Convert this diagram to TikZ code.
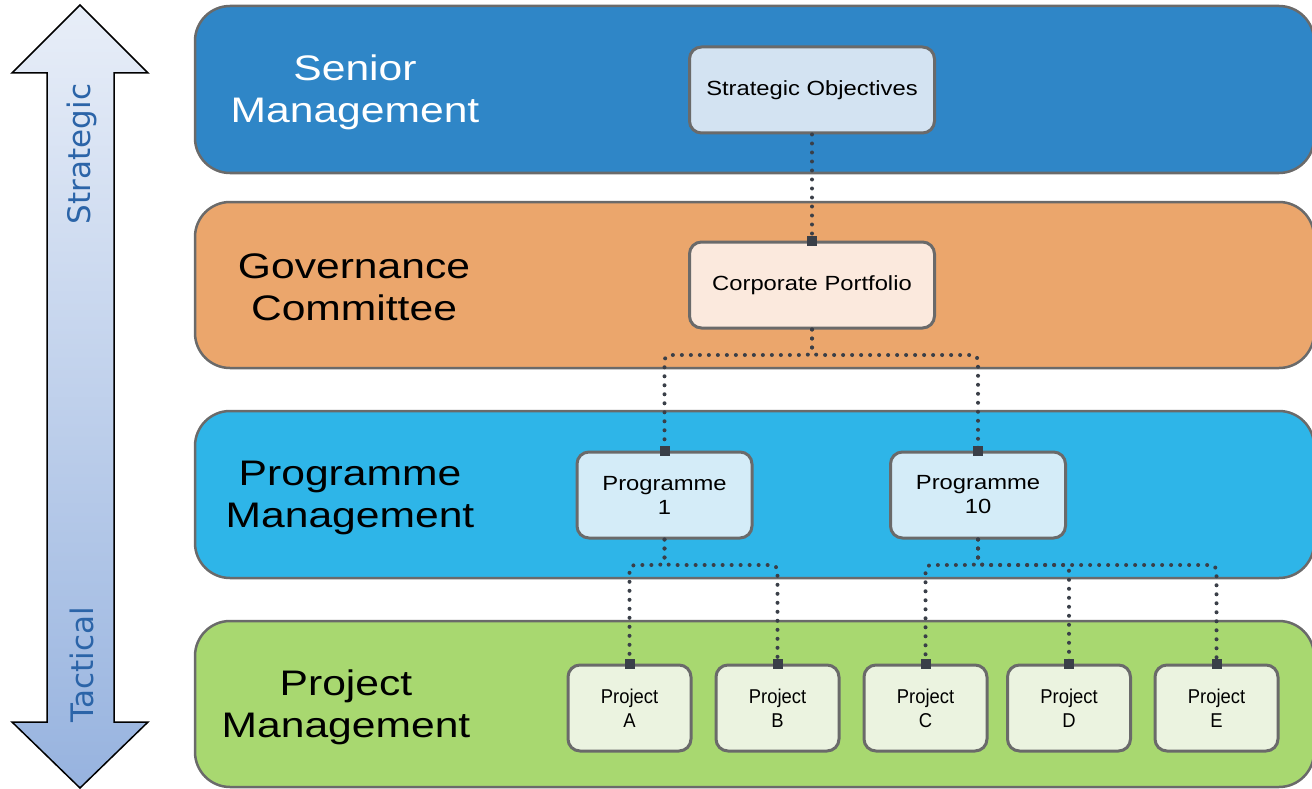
\documentclass[tikz,border=0pt]{standalone}
\usepackage{fontspec}
\setmainfont{Liberation Sans}
\newfontfamily\ttlfont[FakeStretch=1.2]{Liberation Sans}
\newfontfamily\bxfont[FakeStretch=1.16]{Liberation Sans}
\newfontfamily\prfont[FakeStretch=0.92]{Liberation Sans}
\newfontfamily\arrfont{DejaVu Sans}
\usetikzlibrary{calc}
\definecolor{laneA}{HTML}{2F86C7}
\definecolor{laneB}{HTML}{EBA66C}
\definecolor{laneC}{HTML}{2EB5E8}
\definecolor{laneD}{HTML}{A8D870}
\definecolor{boxA}{HTML}{D3E3F2}
\definecolor{boxB}{HTML}{FBE9DD}
\definecolor{boxC}{HTML}{D4ECF8}
\definecolor{boxD}{HTML}{EBF3E0}
\definecolor{edge}{HTML}{6A6A6A}
\definecolor{conncol}{HTML}{3A3F48}
\definecolor{arrtxt}{HTML}{2B64A8}
\definecolor{arrtop}{HTML}{E8EEF8}
\definecolor{arrbot}{HTML}{97B3DF}
\tikzset{
  lane/.style={draw=edge, line width=2.5pt, rounded corners=35pt},
  lanetitle/.style={align=center, font=\ttlfont\fontsize{35.5}{42}\selectfont},
  box/.style={draw=edge, line width=3pt, rounded corners=12pt, align=center, minimum height=86pt, inner sep=0pt},
  conn/.style={draw=conncol, line width=4pt, line cap=round, dash pattern=on 0pt off 9pt, rounded corners=6pt},
  endsq/.style={fill=conncol, minimum size=10pt, inner sep=0pt}
}
\begin{document}
\begin{tikzpicture}[x=1pt,y=-1pt]
\useasboundingbox (0,0) rectangle (1312,789);
\begin{scope}
\clip (0,0) rectangle (1312,789);
% lanes
\draw[lane, fill=laneA] (195,6) rectangle (1314,173);
\draw[lane, fill=laneB] (195,202) rectangle (1314,368);
\draw[lane, fill=laneC] (195,411) rectangle (1314,578);
\draw[lane, fill=laneD] (195,621) rectangle (1314,787);
\end{scope}
% lane titles
\node[lanetitle, text=white] (t1) at (355,92) {Senior\\Management};
\node[lanetitle] (t2) at (354,287) {Governance\\Committee};
\node[lanetitle] (t3) at (350,498) {Programme\\Management};
\node[lanetitle] (t4) at (346,707) {Project\\Management};
% side arrow
\shade[top color=arrtop, bottom color=arrbot]
  (80,5) -- (148,73) -- (114,73) -- (114,722) -- (148,722) -- (80,788) -- (12,722) -- (47,722) -- (47,73) -- (12,73) -- cycle;
\draw[black, line width=1.5pt, line join=miter]
  (80,5) -- (148,73) -- (114,73) -- (114,722) -- (148,722) -- (80,788) -- (12,722) -- (47,722) -- (47,73) -- (12,73) -- cycle;
\node[rotate=90, text=arrtxt, font=\arrfont\fontsize{31}{36}\selectfont] (strat) at (82,154) {Strategic};
\node[rotate=90, text=arrtxt, font=\arrfont\fontsize{31}{36}\selectfont] (tact) at (82,665) {Tactical};
% boxes
\node[box, fill=boxA, minimum width=245pt, font=\bxfont\fontsize{20.5}{24}\selectfont] (so) at (812,90) {Strategic Objectives};
\node[box, fill=boxB, minimum width=245pt, font=\bxfont\fontsize{20.5}{24}\selectfont] (cp) at (812,285) {Corporate Portfolio};
\node[box, fill=boxC, minimum width=175pt, font=\bxfont\fontsize{20.5}{24}\selectfont] (p1) at (664.5,495) {Programme\\1};
\node[box, fill=boxC, minimum width=175pt, font=\bxfont\fontsize{20.5}{24}\selectfont] (p10) at (978,495) {Programme\\10};
\node[box, fill=boxD, minimum width=123pt, font=\prfont\fontsize{20}{24}\selectfont] (pa) at (629.5,708) {Project\\A};
\node[box, fill=boxD, minimum width=123pt, font=\prfont\fontsize{20}{24}\selectfont] (pb) at (777.5,708) {Project\\B};
\node[box, fill=boxD, minimum width=123pt, font=\prfont\fontsize{20}{24}\selectfont] (pc) at (925.5,708) {Project\\C};
\node[box, fill=boxD, minimum width=123pt, font=\prfont\fontsize{20}{24}\selectfont] (pd) at (1069,708) {Project\\D};
\node[box, fill=boxD, minimum width=123pt, font=\prfont\fontsize{20}{24}\selectfont] (pe) at (1216.5,708) {Project\\E};
% junction coordinates
\coordinate (j1) at (812,355);
\coordinate (j2) at (664.5,565);
\coordinate (j3) at (978,565);
% connectors
\draw[conn] (so.south) -- (cp.north);
\draw[conn] (cp.south) -- (j1) -| (p1.north);
\draw[conn] (cp.south) -- (j1) -| (p10.north);
\draw[conn] (p1.south) -- (j2) -| (pa.north);
\draw[conn] (p1.south) -- (j2) -| (pb.north);
\draw[conn] (p10.south) -- (j3) -| (pc.north);
\draw[conn] (p10.south) -- (j3) -| (pd.north);
\draw[conn] (p10.south) -- (j3) -| (pe.north);
% end squares
\foreach \n in {cp,p1,p10,pa,pb,pc,pd,pe}{
  \node[endsq] (sq-\n) at (\n.north) {};
}
\end{tikzpicture}
\end{document}
